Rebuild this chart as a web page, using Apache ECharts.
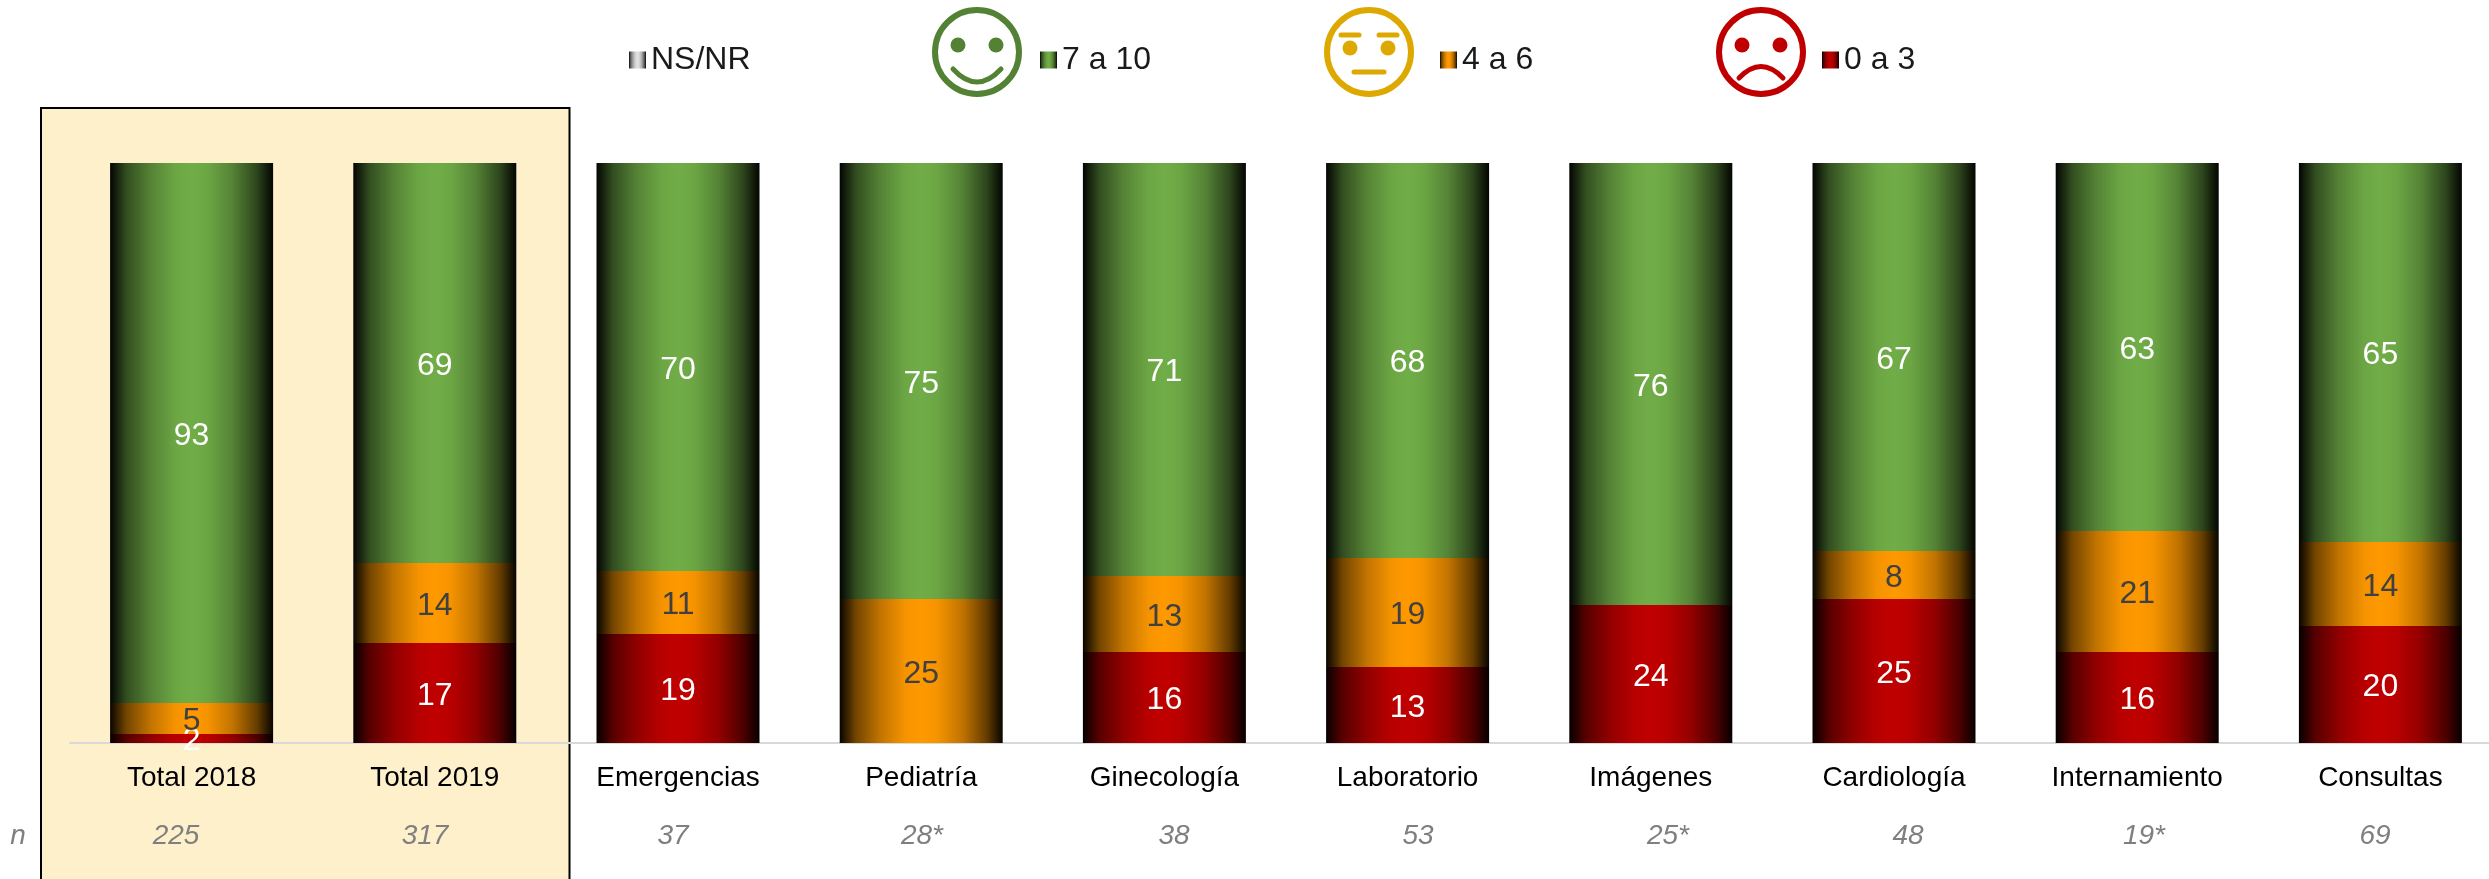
<!DOCTYPE html>
<html>

<head>
	<meta charset="UTF-8">
	<title>Satisfacción por servicio</title>
	<style>
		* {
			margin: 0;
			padding: 0;
		}

		body {
			background: #fff;
		}

		#charts {
			width: 2489px;
			height: 879px;
		}
	</style>
</head>

<body>
	<div id="charts"></div>
</body>
<script src="https://cdn.jsdelivr.net/npm/echarts@6/dist/echarts.min.js"></script>
<script>
	var categories = ['Total 2018', 'Total 2019', 'Emergencias', 'Pediatría', 'Ginecología', 'Laboratorio', 'Imágenes', 'Cardiología', 'Internamiento', 'Consultas'];
	var nLabels = ['225', '317', '37', '28*', '38', '53', '25*', '48', '19*', '69'];

	// porcentajes, la etiqueta los redondea
	var nsnr = [null, null, null, null, null, null, null, null, null, null];
	var alto = [93.10, 68.97, 70.34, 75.17, 71.21, 68.10, 76.21, 66.90, 63.45, 65.34];
	var medio = [5.34, 13.79, 10.86, 24.83, 13.10, 18.79, null, 8.28, 20.86, 14.48];
	var bajo = [1.55, 17.24, 18.79, null, 15.69, 13.10, 23.79, 24.83, 15.69, 20.17];

	// centro en x de cada n, no van alineados con las barras
	var nLabelX = [176, 425, 673, 922, 1174, 1418, 1668, 1908, 2144, 2375];

	var fontName = '"Liberation Sans", Arial, sans-serif';

	//degradado horizontal: oscuro en los bordes, color pleno al centro
	function barColor(r, g, b) {
		function mix(f) {
			return 'rgb(' + Math.round(r * f) + ',' + Math.round(g * f) + ',' + Math.round(b * f) + ')';
		}
		return {
			type: 'linear', x: 0, y: 0, x2: 1, y2: 0,
			colorStops: [
				{ offset: 0, color: mix(0.03) },
				{ offset: 0.1, color: mix(0.45) },
				{ offset: 0.25, color: mix(0.76) },
				{ offset: 0.4, color: mix(0.96) },
				{ offset: 0.5, color: mix(1) },
				{ offset: 0.6, color: mix(0.96) },
				{ offset: 0.75, color: mix(0.76) },
				{ offset: 0.9, color: mix(0.4) },
				{ offset: 1, color: mix(0.03) }
			]
		};
	}

	function barSeries(name, data, color, labelColor) {
		return {
			name: name,
			type: 'bar',
			stack: 'total',
			barWidth: 163,
			data: data,
			itemStyle: { color: color },
			label: {
				show: true,
				position: 'inside',
				offset: [0, 3],
				color: labelColor,
				fontFamily: fontName,
				fontSize: 32,
				formatter: function (p) {
					return Math.round(p.value);
				}
			}
		};
	}

	function legendAt(name, left) {
		return {
			data: [name],
			left: left,
			top: 44,
			padding: 0,
			icon: 'rect',
			itemWidth: 17,
			itemHeight: 17,
			itemGap: 0,
			selectedMode: false,
			textStyle: { color: '#1a1a1a', fontFamily: fontName, fontSize: 32 }
		};
	}

	// caritas de la leyenda, dibujadas alrededor de su centro
	function face(cx, color, parts) {
		var ring = { type: 'circle', shape: { cx: 0, cy: 0, r: 42 }, style: { fill: null, stroke: color, lineWidth: 6 } };
		return { type: 'group', x: cx, y: 52, children: [ring].concat(parts) };
	}
	function eye(x, y, color) {
		return { type: 'circle', shape: { cx: x, cy: y, r: 7.5 }, style: { fill: color } };
	}
	function stroke(shapeType, shape, color) {
		return { type: shapeType, shape: shape, style: { fill: null, stroke: color, lineWidth: 5, lineCap: 'round' } };
	}

	var green = '#548235';
	var yellow = '#DDA900';
	var red = '#C00000';

	var graphics = [
		//recuadro de los totales, sigue por debajo del borde
		{
			type: 'rect',
			z: -10,
			shape: { x: 41, y: 108, width: 528.5, height: 800 },
			style: { fill: '#FFF0CC', stroke: '#000', lineWidth: 2 }
		},
		{
			type: 'text',
			x: 18,
			y: 836,
			style: { text: 'n', fill: '#7F7F7F', font: 'italic 28px ' + fontName, textAlign: 'center', textVerticalAlign: 'middle' }
		},
		face(977, green, [
			eye(-19, -7, green), eye(19, -7, green),
			stroke('bezierCurve', { x1: -24, y1: 17, x2: 24, y2: 17, cpx1: 0, cpy1: 43 }, green)
		]),
		face(1369, yellow, [
			eye(-19, -4, yellow), eye(19, -4, yellow),
			stroke('line', { x1: -28, y1: -17, x2: -10, y2: -17 }, yellow),
			stroke('line', { x1: 10, y1: -17, x2: 28, y2: -17 }, yellow),
			stroke('line', { x1: -15, y1: 20, x2: 15, y2: 20 }, yellow)
		]),
		face(1761, red, [
			eye(-19, -7, red), eye(19, -7, red),
			stroke('bezierCurve', { x1: -22, y1: 26, x2: 22, y2: 26, cpx1: 0, cpy1: 3 }, red)
		])
	];
	for (var i = 0; i < nLabels.length; i++) {
		graphics.push({
			type: 'text',
			x: nLabelX[i],
			y: 836,
			style: { text: nLabels[i], fill: '#7F7F7F', font: 'italic 28px ' + fontName, textAlign: 'center', textVerticalAlign: 'middle' }
		});
	}

	var mycharts = echarts.init(document.getElementById('charts'));
	var option = {
		animation: false,
		backgroundColor: '#fff',
		legend: [
			legendAt('NS/NR', 629),
			legendAt('7 a 10', 1040),
			legendAt('4 a 6', 1440),
			legendAt('0 a 3', 1822)
		],
		//la ultima banda se sale del lienzo, igual que en el original
		grid: { left: 70, top: 163, width: 2432, height: 580, outerBoundsMode: 'none' },
		xAxis: {
			type: 'category',
			data: categories,
			axisTick: { show: false },
			axisLine: { lineStyle: { color: '#D9D9D9', width: 2 } },
			axisLabel: { color: '#000', fontFamily: fontName, fontSize: 28, margin: 21, interval: 0 }
		},
		yAxis: { type: 'value', min: 0, max: 100, show: false },
		graphic: graphics,
		series: [
			barSeries('0 a 3', bajo, barColor(192, 0, 0), '#fff'),
			barSeries('4 a 6', medio, barColor(255, 153, 0), '#404040'),
			barSeries('7 a 10', alto, barColor(112, 173, 71), '#fff'),
			barSeries('NS/NR', nsnr, barColor(225, 225, 225), '#fff')
		]
	};
	mycharts.setOption(option);
</script>

</html>
